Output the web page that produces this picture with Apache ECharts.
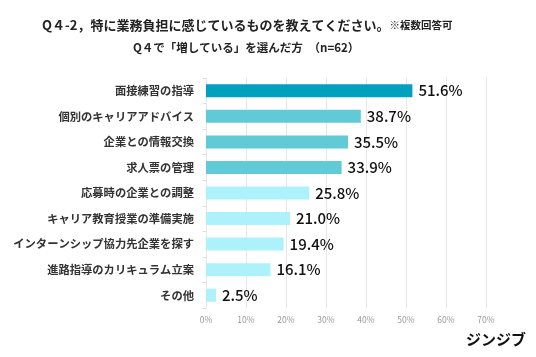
<!DOCTYPE html>
<html><head><meta charset="utf-8">
<script src="https://cdn.jsdelivr.net/npm/echarts@6/dist/echarts.min.js"></script>
<style>html,body{margin:0;padding:0;background:#fff}#c{width:536px;height:357px}</style>
</head><body><div id="c"></div>
<script>
const categories = ['面接練習の指導','個別のキャリアアドバイス','企業との情報交換','求人票の管理','応募時の企業との調整','キャリア教育授業の準備実施','インターンシップ協力先企業を探す','進路指導のカリキュラム立案','その他'];
const values = [51.6, 38.7, 35.5, 33.9, 25.8, 21.0, 19.4, 16.1, 2.5];
const barColors = ['#00A1BE','#60CAD6','#60CAD6','#60CAD6','#ADF1FB','#ADF1FB','#ADF1FB','#ADF1FB','#ADF1FB'];
const xTicks = [0, 10, 20, 30, 40, 50, 60, 70];

const chart = echarts.init(document.getElementById('c'));
const font = '"Noto Sans CJK JP", "Noto Sans", sans-serif';
chart.setOption({
  animation: false,
  textStyle: { fontFamily: font },
  title: [
    { text: '{a|Q４-2，特に業務負担に感じているものを教えてください。}{b|※複数回答可}', left: 37, top: 14,
      textStyle: { rich: { a: { fontSize: 13, fontWeight: 'bold', color: '#222', fontFamily: font },
                           b: { fontSize: 10.5, fontWeight: 'bold', color: '#222', fontFamily: font } } } },
    { text: 'Q４で「増している」を選んだ方　（n=62）', left: 128, top: 37,
      textStyle: { fontSize: 11.5, fontWeight: 'bold', color: '#222', fontFamily: font } }
  ],
  grid: { left: 206, right: 50, top: 78, bottom: 49, containLabel: false },
  xAxis: {
    type: 'value', min: xTicks[0], max: xTicks[xTicks.length - 1], interval: 10,
    axisLine: { show: false }, axisTick: { show: false },
    splitLine: { lineStyle: { color: '#e6e6e6', width: 1 } },
    axisLabel: { formatter: '{value}%', color: '#999', fontSize: 8.5, margin: 8, fontFamily: font }
  },
  yAxis: {
    type: 'category', data: categories, inverse: true,
    axisLine: { show: false },
    axisTick: { show: true, length: 3, lineStyle: { color: '#ddd' } },
    axisLabel: { color: '#333', fontSize: 11.3, fontWeight: 'bold', margin: 12, fontFamily: font }
  },
  series: [{
    type: 'bar', barWidth: 13,
    data: values.map((v, i) => ({ value: v, itemStyle: { color: barColors[i] } })),
    label: { show: true, position: 'right', distance: 6, formatter: p => p.value.toFixed(1) + '%',
      color: '#111', fontSize: 15, fontWeight: 500, fontFamily: font }
  }],
  graphic: [{
    type: 'text', right: 10, top: 332,
    style: { text: 'ジンジブ', fill: '#111', fontSize: 15, fontWeight: 'bold', fontFamily: font }
  }]
});
</script></body></html>
